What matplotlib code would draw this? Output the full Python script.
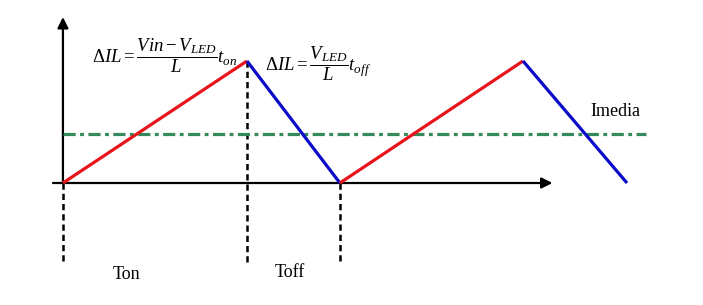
import numpy as np
import matplotlib
matplotlib.use('Agg')
import matplotlib.pyplot as plt

plt.rcParams['font.family'] = ['Liberation Serif', 'DejaVu Serif']
plt.rcParams['mathtext.fontset'] = 'custom'
plt.rcParams['mathtext.rm'] = 'Liberation Serif'
plt.rcParams['mathtext.it'] = 'Liberation Serif:italic'
plt.rcParams['mathtext.cal'] = 'Liberation Serif:italic'

# corrientes en el inductor (unidades normalizadas)
t_nodes = [0.0, 1.0, 1.505, 2.5, 3.065]
i_nodes = [0.0, 1.0, 0.0, 1.0, 0.0]
i_media = 0.40
t_marks = [0.0, 1.0, 1.505]
mark_top = [0.0, 1.0, 0.0]
mark_bottom = [-0.645, -0.67, -0.655]
labels = ['Ton', 'Toff', 'Imedia']

red = '#e8141c'
blue = '#0a0ac8'
green = '#358a5c'

fig = plt.figure(figsize=(7.03, 3.05), dpi=100)
ax = fig.add_axes([0, 0, 1, 1])
ax.set_xlim(-0.342, 3.478)
ax.set_ylim(-1.0, 1.5)
ax.axis('off')

# ejes con flecha
ax.annotate('', xy=(2.66, 0), xytext=(-0.054, 0),
            arrowprops=dict(arrowstyle='-|>', lw=1.6, color='black', mutation_scale=16,
                            shrinkA=0, shrinkB=0))
ax.annotate('', xy=(0, 1.36), xytext=(0, 0),
            arrowprops=dict(arrowstyle='-|>', lw=1.6, color='black', mutation_scale=16,
                            shrinkA=0, shrinkB=0))

# lineas verticales punteadas
for t, y0, y1 in zip(t_marks, mark_top, mark_bottom):
    ax.plot([t, t], [y0, y1], color='black', lw=1.8, ls=(0, (2.5, 1.6)), zorder=2)

# corriente media
ax.plot([0, 3.17], [i_media, i_media], color=green, lw=2.3,
        ls=(0, (3.8, 1.4, 1.2, 1.4)), zorder=3)

# rampas de subida (rojo) y bajada (azul)
for k in range(len(t_nodes) - 1):
    c = red if i_nodes[k + 1] > i_nodes[k] else blue
    ax.plot(t_nodes[k:k + 2], i_nodes[k:k + 2], color=c, lw=2.3,
            solid_capstyle='butt', zorder=4)

ax.text(0.158, 1.04, r'$\Delta IL=\dfrac{Vin-V_{LED}}{L}t_{on}$', fontsize=13.5,
        ha='left', va='center')
ax.text(1.098, 0.98, r'$\Delta IL=\dfrac{V_{LED}}{L}t_{off}$', fontsize=13.5,
        ha='left', va='center')

ax.text(0.348, -0.746, labels[0], fontsize=13, ha='center', va='center')
ax.text(1.234, -0.73, labels[1], fontsize=13, ha='center', va='center')
ax.text(3.0, 0.582, labels[2], fontsize=13, ha='center', va='center')

fig.savefig('out.png', dpi=100)
